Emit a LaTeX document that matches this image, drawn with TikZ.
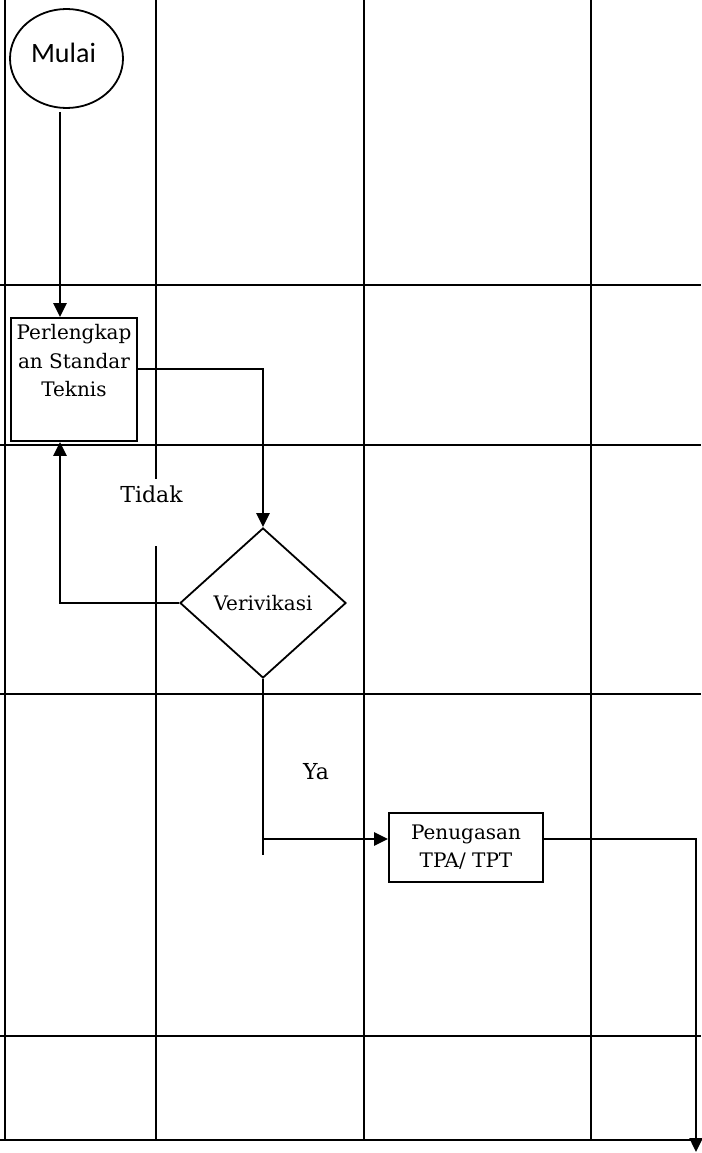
\documentclass[tikz,border=0pt]{standalone}
\usepackage{fontspec}
\setmainfont{DejaVu Serif}
\newfontfamily\calib{Carlito}
\usetikzlibrary{shapes.geometric,arrows.meta,calc}
\begin{document}
\begin{tikzpicture}[x=1pt,y=-1pt,
  gridline/.style={line width=2.6pt},
  conn/.style={line width=2.4pt},
  arr/.style={conn,-{Triangle[length=14pt,width=13pt]}},
  procbox/.style={draw,line width=1.8pt,inner sep=0pt},
  lbl/.style={font=\fontsize{22}{26}\selectfont}]
\useasboundingbox (0,0) rectangle (701,1153);
% swimlane grid
\foreach \y in {285,445,694,1036,1140} \draw[gridline] (0,\y) -- (701,\y);
\foreach \x in {5,156,364,591} \draw[gridline] (\x,0) -- (\x,1141);
% nodes
\node[ellipse, draw, line width=1.8pt, minimum width=113pt, minimum height=99pt, inner sep=0pt,
  label={[font=\calib\fontsize{28}{32}\selectfont, xshift=-3pt, yshift=6pt]center:Mulai}] (start) at (66.5,58.5) {};
\node[procbox, minimum width=126pt, minimum height=123pt,
  label={[align=center, font=\fontsize{20}{28.5}\selectfont, anchor=north, yshift=-4pt]north:Perlengkap\\an Standar\\Teknis}] (box) at (74,379.5) {};
\node[diamond, draw, line width=1.8pt, minimum width=166pt, minimum height=150pt, inner sep=0pt,
  font=\fontsize{20}{24}\selectfont] (dia) at (263,603) {Verivikasi};
\node[lbl, fill=white, inner xsep=3pt, inner ysep=3pt, text height=20pt, text depth=41pt, anchor=base] (tidak) at (151.5,502) {Tidak};
\node[lbl] (ya) at (316,772) {Ya};
\node[procbox, minimum width=154pt, minimum height=69pt, align=center,
  font=\fontsize{20}{28}\selectfont] (pen) at (466,847.5) {Penugasan\\TPA/ TPT};
% connectors
\coordinate (s1) at (60,112);
\draw[arr] (s1) -- (s1 |- box.north);
\draw[arr] ([yshift=10.5pt]box.east) -| (dia.north);
\draw[arr] (dia.west) -| (s1 |- box.south);
\coordinate (yb) at (263,855);
\draw[conn] (dia.south) -- (yb);
\coordinate (yj) at (263,839);
\draw[arr] (yj) -- (yj -| pen.west);
\coordinate (rc) at (696,839);
\coordinate (re) at (696,1152);
\draw[arr] (yj -| pen.east) -- (rc) -- (re);
\end{tikzpicture}
\end{document}
